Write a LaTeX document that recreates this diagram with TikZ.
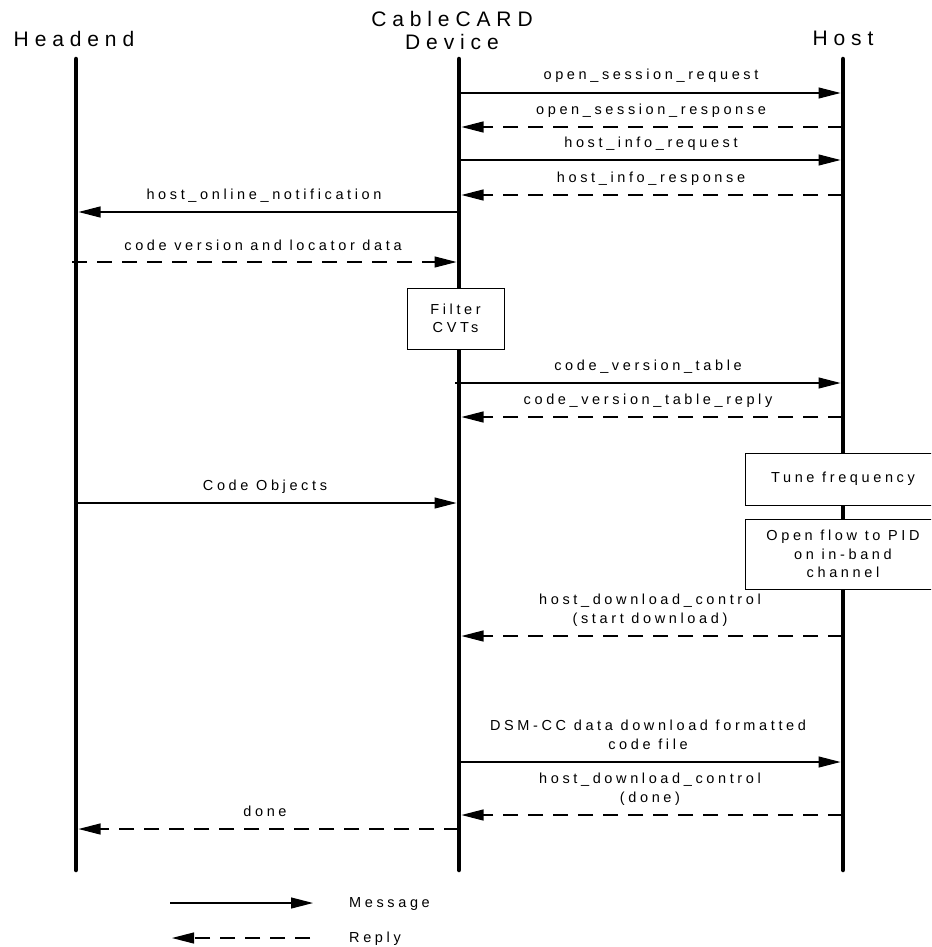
\documentclass[tikz,border=0pt]{standalone}
\usepackage{fontspec}
\newfontfamily\lblfam[LetterSpace=25]{Liberation Sans}
\newfontfamily\hdrfam[LetterSpace=28]{Liberation Sans}
\newcommand\lblfont{\lblfam\fontsize{14.5}{18.5}\selectfont}
\newcommand\hdrfont{\hdrfam\fontsize{21}{23}\selectfont}
\usetikzlibrary{arrows.meta}
\begin{document}
\begin{tikzpicture}[x=1pt,y=-1pt,
  life/.style={line width=4.5pt,line cap=round},
  msg/.style={line width=1.1pt,-{Triangle[length=22pt,width=11pt]}},
  rep/.style={msg,dash pattern=on 15pt off 10pt},
  lbl/.style={font=\lblfont,anchor=base,align=center,inner sep=0pt},
  hdr/.style={font=\hdrfont,anchor=base,align=center,inner sep=0pt},
  procbox/.style={draw,line width=1pt,fill=white,font=\lblfont,align=center,inner sep=0pt}]
\useasboundingbox (0,0) rectangle (931,947);
\clip (0,0) rectangle (931,947);
\fill[white] (0,0) rectangle (931,947);
% headers
\node[hdr] (hHead) at (74,47) {Headend};
\node[hdr] (hCard) at (452,50) {CableCARD\\Device};
\node[hdr] (hHost) at (843,46) {Host};
% lifelines
\coordinate (Ht) at (76,59); \coordinate (Hb) at (76,870);
\coordinate (Ct) at (459,59); \coordinate (Cb) at (459,870);
\coordinate (Ot) at (843,59); \coordinate (Ob) at (843,870);
\draw[life] (Ht) -- (Hb);
\draw[life] (Ct) -- (Cb);
\draw[life] (Ot) -- (Ob);
% boxes
\node[procbox,minimum width=97pt,minimum height=61pt] (filt) at (455.5,318.5) {Filter\\CVTs};
\node[procbox,minimum width=196pt,minimum height=52pt] (tune) at (843,479) {Tune frequency};
\node[procbox,minimum width=196pt,minimum height=70pt] (openf) at (843,554) {Open flow to PID\\on in-band\\channel};
% messages
\coordinate (a1) at (459,93);  \coordinate (b1) at (840.5,93);
\draw[msg] (a1) -- (b1);
\node[lbl] (l1) at (651,80) {open\_session\_request};
\coordinate (a2) at (843,127); \coordinate (b2) at (461.5,127);
\draw[rep] (a2) -- (b2);
\node[lbl] (l2) at (651,114) {open\_session\_response};
\coordinate (a3) at (459,160); \coordinate (b3) at (840.5,160);
\draw[msg] (a3) -- (b3);
\node[lbl] (l3) at (651,147) {host\_info\_request};
\coordinate (a4) at (843,195); \coordinate (b4) at (461.5,195);
\draw[rep] (a4) -- (b4);
\node[lbl] (l4) at (651,182) {host\_info\_response};
\coordinate (a5) at (459,212); \coordinate (b5) at (78.5,212);
\draw[msg] (a5) -- (b5);
\node[lbl] (l5) at (264,199) {host\_online\_notification};
\coordinate (a6) at (72,262); \coordinate (b6) at (456.5,262);
\draw[rep] (a6) -- (b6);
\node[lbl] (l6) at (263,250) {code version and locator data};
\coordinate (a7) at (455,383); \coordinate (b7) at (840.5,383);
\draw[msg] (a7) -- (b7);
\node[lbl] (l7) at (648,370) {code\_version\_table};
\coordinate (a8) at (843,417); \coordinate (b8) at (461.5,417);
\draw[rep] (a8) -- (b8);
\node[lbl] (l8) at (648,404) {code\_version\_table\_reply};
\coordinate (a9) at (76,503); \coordinate (b9) at (456.5,503);
\draw[msg] (a9) -- (b9);
\node[lbl] (l9) at (265,490) {Code Objects};
\coordinate (a10) at (843,636); \coordinate (b10) at (461.5,636);
\draw[rep] (a10) -- (b10);
\node[lbl] (l10) at (650,623) {host\_download\_control\\(start download)};
\coordinate (a11) at (459,762); \coordinate (b11) at (840.5,762);
\draw[msg] (a11) -- (b11);
\node[lbl] (l11) at (648,749) {DSM-CC data download formatted\\code file};
\coordinate (a12) at (843,815); \coordinate (b12) at (461.5,815);
\draw[rep] (a12) -- (b12);
\node[lbl] (l12) at (650,802) {host\_download\_control\\(done)};
\coordinate (a13) at (459,829); \coordinate (b13) at (78.5,829);
\draw[rep] (a13) -- (b13);
\node[lbl] (l13) at (265,816) {done};
% legend
\coordinate (g1a) at (170,903); \coordinate (g1b) at (313,903);
\draw[msg] (g1a) -- (g1b);
\node[lbl,anchor=base west] (g1t) at (349,907) {Message};
\coordinate (g2a) at (310,938); \coordinate (g2b) at (172,938);
\draw[rep] (g2a) -- (g2b);
\node[lbl,anchor=base west] (g2t) at (349,942) {Reply};
\end{tikzpicture}
\end{document}
